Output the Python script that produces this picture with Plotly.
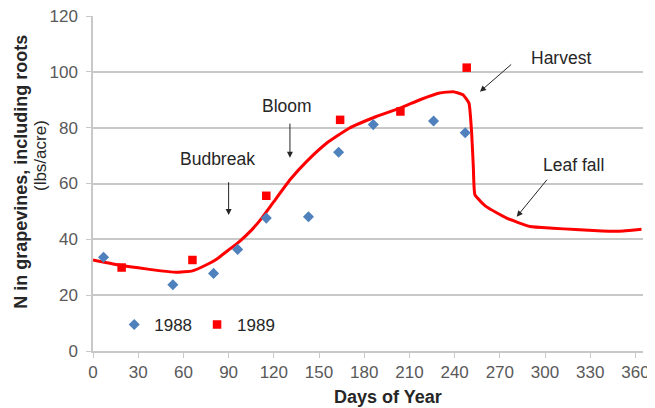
import plotly.graph_objects as go

# 1988 samples (diamonds)
days_1988 = [7, 53, 80, 96, 115, 143, 163, 186, 226, 247]
n_1988 = [33.6, 23.7, 27.8, 36.4, 47.6, 48.1, 71.2, 81.1, 82.4, 78.2]

# 1989 samples (squares)
days_1989 = [19, 66, 115, 164, 204, 248]
n_1989 = [29.9, 32.6, 55.6, 82.8, 85.8, 101.5]

# Fitted seasonal curve
curve_days = [0, 15, 30, 45, 55, 66, 75, 82, 90, 97.5, 105, 112, 120, 131, 142, 155, 170, 188, 205, 217,
              230, 239, 245.5, 249.5, 251.3, 252.4, 253.5, 261, 274.5, 290, 305, 320, 338, 352, 364]
curve_n = [32.6, 31.0, 29.8, 28.7, 28.2, 28.7, 30.8, 32.9, 36.2, 39.4, 43.2, 47.6, 53.5, 61.5, 68.0, 74.4,
           79.8, 84.0, 87.3, 90.0, 92.4, 92.9, 91.8, 88.8, 78.0, 66.0, 55.9, 51.7, 47.6, 44.6, 44.0, 43.5,
           43.0, 43.0, 43.6]

x_ticks = [0, 30, 60, 90, 120, 150, 180, 210, 240, 270, 300, 330, 360]
y_ticks = [0, 20, 40, 60, 80, 100, 120]

FONT = "Liberation Sans, Arial, sans-serif"
GRID = "#c8c8c8"
TXT = "#262626"

fig = go.Figure()
fig.add_trace(go.Scatter(x=curve_days, y=curve_n, mode="lines", showlegend=False,
                         line=dict(color="#ff0000", width=3, shape="spline", smoothing=0.4)))
fig.add_trace(go.Scatter(x=days_1988, y=n_1988, mode="markers", name="1988",
                         marker=dict(symbol="diamond", size=8.5, color="#4f81bd")))
fig.add_trace(go.Scatter(x=days_1989, y=n_1989, mode="markers", name="1989",
                         marker=dict(symbol="square", size=8.5, color="#ff0000")))

labels = [
    ("Budbreak", 82.3, 68.8),
    ("Bloom", 128.7, 87.6),
    ("Harvest", 310.9, 105.0),
    ("Leaf fall", 318.8, 66.7),
]
anns = []
for t, x, y in labels:
    anns.append(dict(x=x, y=y, xref="x", yref="y", text=t, showarrow=False,
                     font=dict(family=FONT, size=17.5, color=TXT)))
arrows = [
    ((90, 61.0), (90, 48.7)),
    ((130.7, 82.0), (130.7, 69.2)),
    ((278.5, 103.1), (256.8, 92.9)),
    ((302.1, 61.9), (281.2, 48.1)),
]
for (tx, ty), (hx, hy) in arrows:
    anns.append(dict(x=hx, y=hy, ax=tx, ay=ty, xref="x", yref="y", axref="x", ayref="y",
                     text="", showarrow=True, arrowhead=2, arrowsize=1.2, arrowwidth=1,
                     arrowcolor=TXT))

# axis titles (placed to match the reference)
anns.append(dict(x=-72 / 550, y=0.535, xref="paper", yref="paper", xanchor="center", yanchor="middle",
                 text="<b>N in grapevines, including roots</b>", textangle=-90, showarrow=False,
                 font=dict(family=FONT, size=18, color=TXT)))
anns.append(dict(x=-53 / 550, y=0.582, xref="paper", yref="paper", xanchor="center", yanchor="middle",
                 text="(lbs/acre)", textangle=-90, showarrow=False,
                 font=dict(family=FONT, size=17, color=TXT)))
anns.append(dict(x=295 / 550, y=-46 / 335, xref="paper", yref="paper", xanchor="center", yanchor="middle",
                 text="<b>Days of Year</b>", showarrow=False,
                 font=dict(family=FONT, size=18, color=TXT)))

# the page places the figure 8px in from the top-left corner
fig.update_layout(
    width=647, height=400,
    margin=dict(l=85, r=12, t=8, b=57, autoexpand=False),
    paper_bgcolor="white", plot_bgcolor="white",
    font=dict(family=FONT, size=17, color="#595959"),
    annotations=anns,
    legend=dict(orientation="h", x=0.0386, y=0.078, xanchor="left", yanchor="middle",
                bgcolor="rgba(0,0,0,0)", font=dict(family=FONT, size=17, color=TXT),
                itemwidth=30),
    xaxis=dict(range=[0, 365], tickvals=x_ticks, showgrid=False, showline=True, linecolor=GRID,
               linewidth=1.5, ticks="outside", ticklen=5, tickcolor=GRID, zeroline=False,
               automargin=False, ticklabeloverflow="allow",
               tickfont=dict(family=FONT, size=17, color="#595959")),
    yaxis=dict(range=[0, 120], tickvals=y_ticks, showgrid=True, gridcolor=GRID, gridwidth=1.5,
               showline=True, linecolor=GRID, linewidth=1.5, ticks="outside", ticklen=5,
               tickcolor=GRID, zeroline=False, automargin=False, ticklabelstandoff=5,
               ticklabeloverflow="allow",
               tickfont=dict(family=FONT, size=17, color="#595959")),
)

fig.write_html("out.html")
